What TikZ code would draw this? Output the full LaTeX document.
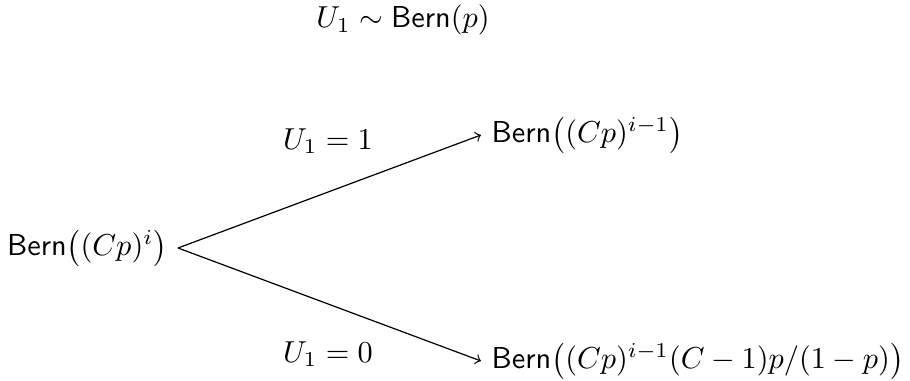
\documentclass[tikz,border=0pt]{standalone}
\begin{document}
\begin{tikzpicture}[x=0.33pt,y=-0.33pt,
  lbl/.style={inner sep=0pt},
  edge/.style={->}]
\useasboundingbox (0,0) rectangle (910,381);
\node (title) at (403,20) {$U_1 \sim \textsf{Bern}(p)$};
\node[anchor=east] (r) at (178,248) {$\textsf{Bern}\bigl((Cp)^i\bigr)$};
\node[anchor=west] (a) at (481,135) {$\textsf{Bern}\bigl((Cp)^{i-1}\bigr)$};
\node[anchor=west] (b) at (481,361) {$\textsf{Bern}\bigl((Cp)^{i-1}(C-1)p/(1-p)\bigr)$};
\node[lbl] (la) at (328,141) {$U_1 = 1$};
\node[lbl] (lb) at (328,354) {$U_1 = 0$};
\draw[edge] (r.east) -- (a.west);
\draw[edge] (r.east) -- (b.west);
\end{tikzpicture}
\end{document}
